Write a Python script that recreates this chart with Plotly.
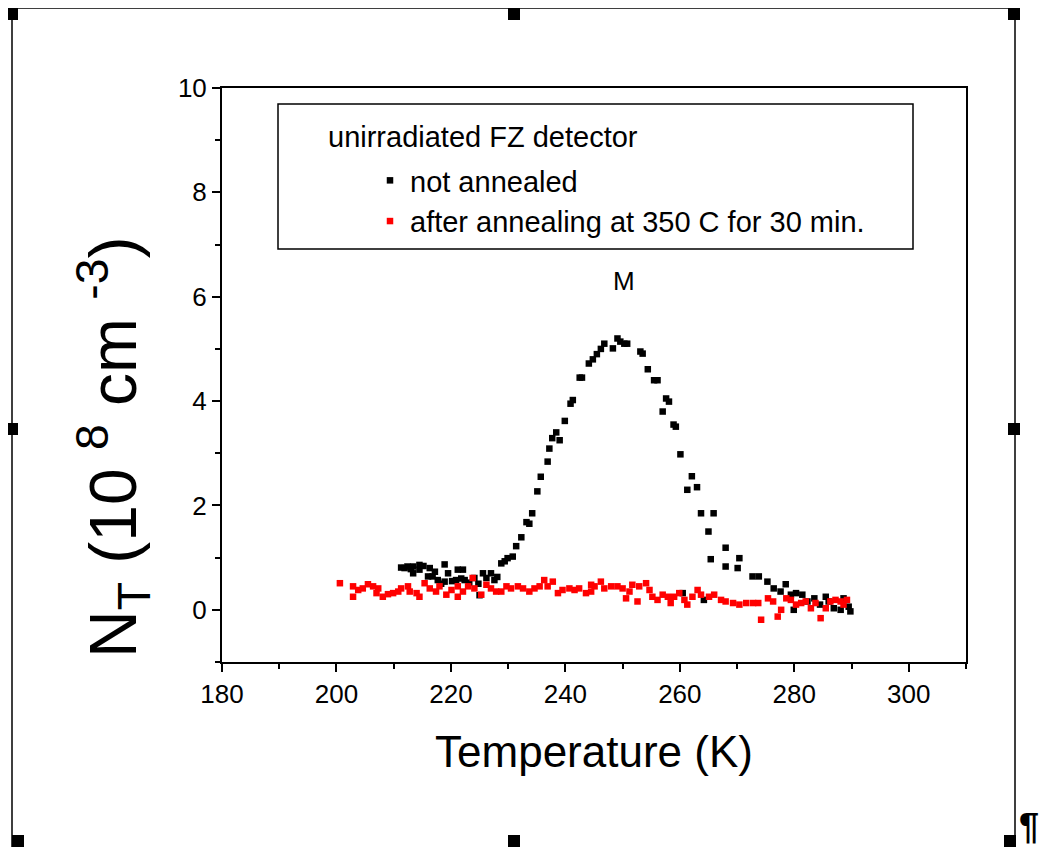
import plotly.graph_objects as go

# values
temp_not_annealed = [
    211.3, 211.9, 212.4, 213.0, 213.4, 213.4, 214.5, 214.5, 215.2, 216.0,
    216.3, 216.8, 217.2, 217.7, 218.3, 218.9, 218.9, 219.5, 220.2, 220.9,
    221.2, 221.8, 222.1, 222.4, 223.2, 224.1, 224.8, 225.0, 225.6, 226.2,
    227.0, 227.6, 228.1, 228.8, 229.4, 229.9, 230.8, 231.4, 232.3, 233.2,
    233.7, 234.2, 235.1, 235.7, 236.9, 237.2, 237.7, 238.4, 239.0, 239.9,
    240.9, 241.3, 242.5, 242.9, 244.1, 244.8, 245.5, 246.2, 246.8, 248.3,
    249.1, 249.6, 250.3, 250.8, 253.1, 253.5, 254.4, 255.5, 256.1, 257.0,
    257.6, 258.1, 258.9, 259.3, 260.1, 260.5, 261.3, 262.1, 263.0, 263.7,
    264.2, 265.0, 265.4, 265.9, 268.0, 268.0, 270.1, 270.4, 272.7, 273.8,
    275.3, 276.4, 277.6, 278.5, 279.4, 279.9, 280.3, 281.4, 282.3, 283.5,
    284.5, 285.5, 286.0, 286.9, 288.1, 288.6, 289.5, 289.8,
]
nt_not_annealed = [
    0.81, 0.80, 0.83, 0.78, 0.83, 0.70, 0.86, 0.77, 0.84, 0.64,
    0.80, 0.64, 0.73, 0.57, 0.50, 0.87, 0.54, 0.70, 0.55, 0.57,
    0.77, 0.60, 0.77, 0.57, 0.52, 0.61, 0.50, 0.28, 0.70, 0.61,
    0.70, 0.57, 0.63, 0.89, 0.93, 0.99, 1.02, 1.22, 1.39, 1.68,
    1.65, 1.85, 2.27, 2.55, 2.84, 3.09, 3.29, 3.40, 3.25, 3.62,
    3.95, 4.02, 4.45, 4.45, 4.72, 4.80, 4.90, 5.00, 5.10, 5.01,
    5.20, 5.14, 5.10, 5.10, 4.95, 4.91, 4.61, 4.40, 4.40, 3.80,
    4.05, 3.99, 3.55, 3.51, 2.98, 0.32, 2.30, 2.56, 2.35, 1.85,
    0.19, 1.50, 0.97, 1.85, 1.19, 0.83, 0.80, 0.99, 0.64, 0.64,
    0.54, 0.41, 0.35, 0.49, 0.29, 0.00, 0.32, 0.29, 0.16, 0.22,
    0.10, 0.25, 0.16, 0.03, 0.00, 0.22, 0.06, -0.03,
]

temp_annealed = [
    200.6, 202.9, 202.9, 203.8, 204.6, 205.5, 206.4, 207.0, 207.3, 208.1,
    209.0, 209.9, 210.8, 211.3, 212.5, 212.8, 214.0, 214.5, 215.4, 216.3,
    217.4, 218.0, 219.2, 220.1, 221.2, 221.2, 222.1, 223.0, 223.8, 224.1,
    225.3, 226.2, 227.0, 227.9, 228.8, 229.7, 230.5, 231.7, 232.6, 233.7,
    234.6, 235.5, 236.3, 236.9, 237.8, 238.7, 239.5, 240.7, 241.6, 242.4,
    243.6, 244.5, 244.5, 245.1, 246.2, 246.8, 248.0, 249.1, 250.0, 250.6,
    251.2, 251.7, 252.6, 252.9, 254.1, 254.7, 255.2, 256.1, 257.0, 257.9,
    258.4, 259.0, 259.9, 260.8, 261.3, 262.2, 263.1, 263.7, 265.1, 266.0,
    267.2, 268.0, 269.3, 270.4, 271.6, 272.8, 273.7, 274.2, 275.4, 276.3,
    277.1, 277.7, 278.6, 279.4, 280.3, 281.2, 282.0, 282.9, 283.7, 284.6,
    285.5, 286.3, 287.2, 288.1, 288.6, 289.2,
]
nt_annealed = [
    0.51, 0.45, 0.25, 0.38, 0.41, 0.49, 0.45, 0.32, 0.41, 0.25,
    0.30, 0.32, 0.35, 0.41, 0.45, 0.35, 0.32, 0.25, 0.51, 0.41,
    0.35, 0.45, 0.29, 0.38, 0.45, 0.25, 0.35, 0.45, 0.61, 0.41,
    0.29, 0.48, 0.41, 0.35, 0.35, 0.45, 0.41, 0.45, 0.41, 0.35,
    0.41, 0.45, 0.57, 0.45, 0.54, 0.32, 0.38, 0.41, 0.38, 0.41,
    0.32, 0.48, 0.35, 0.45, 0.54, 0.41, 0.45, 0.45, 0.41, 0.22,
    0.35, 0.48, 0.16, 0.45, 0.51, 0.38, 0.25, 0.19, 0.29, 0.25,
    0.13, 0.25, 0.32, 0.19, 0.10, 0.25, 0.38, 0.29, 0.25, 0.29,
    0.19, 0.16, 0.13, 0.10, 0.13, 0.13, 0.13, -0.19, 0.22, 0.16,
    -0.13, 0.00, 0.22, 0.19, 0.10, 0.13, 0.16, 0.03, 0.13, -0.16,
    0.03, 0.16, 0.19, 0.16, 0.10, 0.19,
]

legend_title = "unirradiated FZ detector"
series_names = ["not annealed", "after annealing at 350 C for 30 min."]

FONT = "Liberation Sans, Arial, sans-serif"

# the page body has an 8px margin, so work in window pixels and shift back
OFF = 8
W, H = 1048 - OFF, 847 - OFF
# plot area in window pixels
L, R, T, B = 222, 966, 88, 662


def px(x):
    return (x - L) / (R - L)


def py(y):
    return (B - y) / (B - T)


fig = go.Figure()
fig.add_trace(go.Scatter(
    x=temp_not_annealed, y=nt_not_annealed, mode="markers", name=series_names[0],
    legendgroup="a",
    marker=dict(symbol="square", size=6.5, color="#000000", line_width=0),
))
fig.add_trace(go.Scatter(
    x=temp_annealed, y=nt_annealed, mode="markers", name=series_names[1],
    legendgroup="b",
    marker=dict(symbol="square", size=6.5, color="#ff0000", line_width=0),
))

fig.update_layout(
    width=W,
    height=H,
    margin=dict(l=L - OFF, r=W - (R - OFF), t=T - OFF, b=H - (B - OFF), pad=0),
    paper_bgcolor="#ffffff",
    plot_bgcolor="#ffffff",
    font=dict(family=FONT, size=26, color="#000000"),
    showlegend=True,
    legend=dict(
        x=px(370), y=py(155), xanchor="left", yanchor="top",
        bgcolor="rgba(0,0,0,0)", borderwidth=0,
        font=dict(family=FONT, size=29, color="#000000"),
        tracegroupgap=0,
    ),
)
fig.update_xaxes(
    range=[180, 310],
    tickmode="linear", tick0=180, dtick=20,
    ticks="outside", ticklen=8, tickwidth=2, tickcolor="#000000",
    minor=dict(dtick=10, tick0=180, ticks="outside", ticklen=5, tickwidth=2, tickcolor="#000000"),
    showline=True, linewidth=2, linecolor="#000000", mirror=True,
    showgrid=False, zeroline=False,
    tickfont=dict(family=FONT, size=26),
    title=dict(text="Temperature (K)", font=dict(family=FONT, size=44), standoff=28),
)
fig.update_yaxes(
    range=[-1, 10],
    tickmode="linear", tick0=0, dtick=2,
    ticks="outside", ticklen=8, tickwidth=2, tickcolor="#000000",
    minor=dict(dtick=1, tick0=0, ticks="outside", ticklen=5, tickwidth=2, tickcolor="#000000"),
    showline=True, linewidth=2, linecolor="#000000", mirror=True,
    showgrid=False, zeroline=False,
    tickfont=dict(family=FONT, size=26),
)

# y title, set lower than axis centre as in the original
fig.add_annotation(
    text="N<sub>T</sub> (10 <sup>8</sup> cm <sup>-3</sup>)",
    textangle=-90, font=dict(family=FONT, size=66),
    showarrow=False, xref="paper", yref="paper",
    x=px(113), y=py(448), xanchor="center", yanchor="middle",
)

# peak label
fig.add_annotation(
    text="M", font=dict(family=FONT, size=26),
    showarrow=False, xref="x", yref="y", x=250.3, y=6.3,
)

# legend box and its title
fig.add_shape(type="rect", xref="paper", yref="paper",
              x0=px(278), x1=px(913), y0=py(249), y1=py(104),
              line=dict(color="#000000", width=1.5))
fig.add_annotation(
    text=legend_title, font=dict(family=FONT, size=29),
    showarrow=False, xref="paper", yref="paper",
    x=px(326), y=py(137), xanchor="left", yanchor="middle",
)

# outer frame with selection handles
fig.add_shape(type="rect", xref="paper", yref="paper",
              x0=px(12), x1=px(1015), y0=py(860), y1=py(8),
              line=dict(color="#000000", width=1.5))
handles = [(6, 8), (508, 8), (1008, 8), (6, 423), (1008, 423), (12, 835), (508, 835), (1004, 835)]
for hx, hy in handles:
    fig.add_shape(type="rect", xref="paper", yref="paper",
                  x0=px(hx), x1=px(hx + 12), y0=py(hy + 12), y1=py(hy),
                  line_width=0, fillcolor="#000000")

fig.add_annotation(
    text="<b>¶</b>", font=dict(family=FONT, size=36),
    showarrow=False, xref="paper", yref="paper",
    x=px(1017), y=py(849), xanchor="left", yanchor="bottom",
)

fig.write_html("out.html")
